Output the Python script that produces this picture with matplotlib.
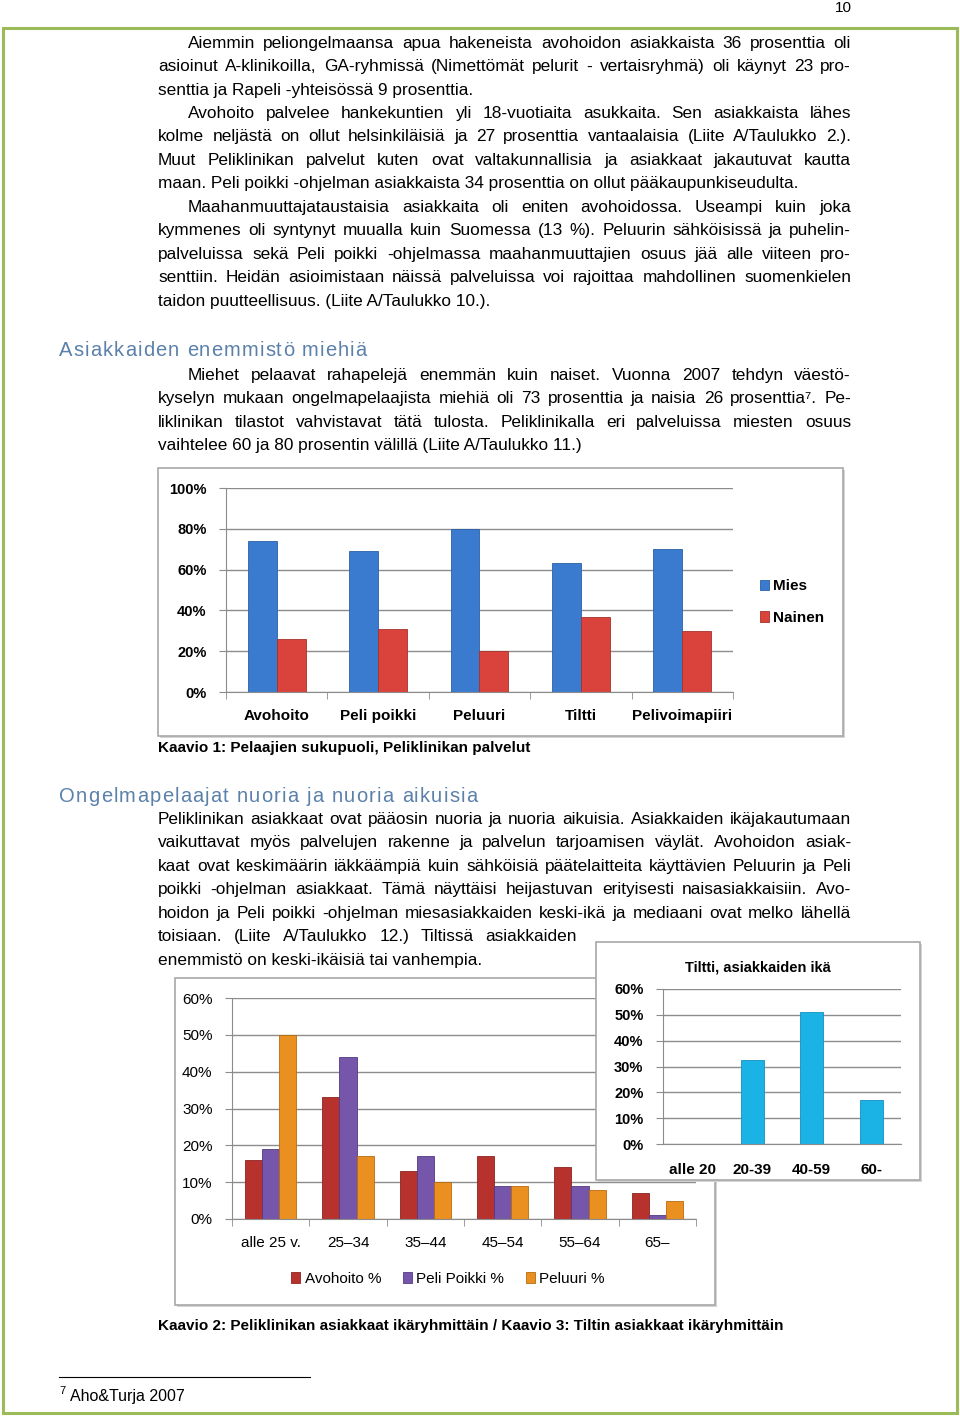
import matplotlib
matplotlib.use('Agg')
import matplotlib.pyplot as plt
from matplotlib.patches import Rectangle
from matplotlib.lines import Line2D
import numpy as np

# --- chart data ---
services = ['Avohoito', 'Peli poikki', 'Peluuri', 'Tiltti', 'Pelivoimapiiri']
mies = [74, 69, 80, 63, 70]
nainen = [26, 31, 20, 37, 30]

age_groups = ['alle 25 v.', '25\u201334', '35\u201344', '45\u201354', '55\u201364', '65\u2013']
avohoito = [16, 33, 13, 17, 14, 7]
peli_poikki = [19, 44, 17, 9, 9, 1]
peluuri = [50, 17, 10, 9, 8, 5]

tiltti_groups = ['alle 20', '20-39', '40-59', '60-']
tiltti = [0, 32.5, 51, 17]

# --- page text ---
para1 = ["Aiemmin peliongelmaansa apua hakeneista avohoidon asiakkaista 36 prosenttia oli",
         "asioinut A-klinikoilla, GA-ryhmissä (Nimettömät pelurit - vertaisryhmä) oli käynyt 23 pro-",
         "senttia ja Rapeli -yhteisössä 9 prosenttia."]
para2 = ["Avohoito palvelee hankekuntien yli 18-vuotiaita asukkaita. Sen asiakkaista lähes",
         "kolme neljästä on ollut helsinkiläisiä ja 27 prosenttia vantaalaisia (Liite A/Taulukko 2.).",
         "Muut Peliklinikan palvelut kuten ovat valtakunnallisia ja asiakkaat jakautuvat kautta",
         "maan. Peli poikki -ohjelman asiakkaista 34 prosenttia on ollut pääkaupunkiseudulta."]
para3 = ["Maahanmuuttajataustaisia asiakkaita oli eniten avohoidossa. Useampi kuin joka",
         "kymmenes oli syntynyt muualla kuin Suomessa (13 %). Peluurin sähköisissä ja puhelin-",
         "palveluissa sekä Peli poikki -ohjelmassa maahanmuuttajien osuus jää alle viiteen pro-",
         "senttiin. Heidän asioimistaan näissä palveluissa voi rajoittaa mahdollinen suomenkielen",
         "taidon puutteellisuus. (Liite A/Taulukko 10.)."]
para4 = ["Miehet pelaavat rahapelejä enemmän kuin naiset. Vuonna 2007 tehdyn väestö-",
         "kyselyn mukaan ongelmapelaajista miehiä oli 73 prosenttia ja naisia 26 prosenttia\u2077. Pe-",
         "liklinikan tilastot vahvistavat tätä tulosta. Peliklinikalla eri palveluissa miesten osuus",
         "vaihtelee 60 ja 80 prosentin välillä (Liite A/Taulukko 11.)"]
para5 = ["Peliklinikan asiakkaat ovat pääosin nuoria ja nuoria aikuisia. Asiakkaiden ikäjakautumaan",
         "vaikuttavat myös palvelujen rakenne ja palvelun tarjoamisen väylät. Avohoidon asiak-",
         "kaat ovat keskimäärin iäkkäämpiä kuin sähköisiä päätelaitteita käyttävien Peluurin ja Peli",
         "poikki -ohjelman asiakkaat. Tämä näyttäisi heijastuvan erityisesti naisasiakkaisiin. Avo-",
         "hoidon ja Peli poikki -ohjelman miesasiakkaiden keski-ikä ja mediaani ovat melko lähellä",
         "toisiaan. (Liite A/Taulukko 12.) Tiltissä asiakkaiden",
         "enemmistö on keski-ikäisiä tai vanhempia."]

W, H = 960, 1416
fig = plt.figure(figsize=(9.6, 14.16), dpi=100)
renderer = fig.canvas.get_renderer()

SANS = ['Liberation Sans', 'DejaVu Sans']
GRID = '#8c8c8c'
BODY_SIZE = 12.4


def fx(x):
    return x / W


def fy(y):
    return 1 - y / H


def txt(x, y, s, **kw):
    kw.setdefault('family', SANS)
    kw.setdefault('size', 12)
    kw.setdefault('va', 'center')
    return fig.text(fx(x), fy(y), s, **kw)


def line(x0, x1, y, s, justify=True):
    # y is the visual middle of the line; text sits on a shared baseline
    yb = y + 5
    if not justify:
        txt(x0, yb, s, size=BODY_SIZE, va='baseline')
        return
    words = s.split(' ')
    items = [txt(0, yb, w, size=BODY_SIZE, va='baseline') for w in words]
    widths = [t.get_window_extent(renderer).width for t in items]
    gap = (x1 - x0 - sum(widths)) / (len(words) - 1)
    x = x0
    for t, w in zip(items, widths):
        t.set_x(fx(x))
        x += w + gap


def spaced(x, y, s, gap, **kw):
    size = kw.get('size', 12)
    for ch in s:
        if ch == ' ':
            x += 0.28 * size * 100 / 72 + gap
            continue
        t = txt(x, y, ch, va='baseline', **kw)
        x += t.get_window_extent(renderer).width + gap


def paragraph(lines, y0, first_indent=True, right=851):
    for i, s in enumerate(lines):
        x0 = 188 if (i == 0 and first_indent) else 158
        last = i == len(lines) - 1
        line(x0, right, y0 + i * 23.45, s, justify=not last)


def box(x0, y0, x1, y1, z):
    fig.add_artist(Rectangle((fx(x0 + 2), fy(y1 + 2)), (x1 - x0) / W, (y1 - y0) / H,
                             transform=fig.transFigure, fc='#d4d4d4', ec='none', zorder=z - 0.1))
    fig.add_artist(Rectangle((fx(x0), fy(y1)), (x1 - x0) / W, (y1 - y0) / H,
                             transform=fig.transFigure, fc='white', ec='#a8a8a8', lw=1.2, zorder=z))


def axes_px(x0, x1, ybot, ytop, z):
    return fig.add_axes([fx(x0), fy(ybot), (x1 - x0) / W, (ybot - ytop) / H], zorder=z)


def style(ax, n, ymax, step, bold, tick_size, ypad, xpad):
    weight = 'bold' if bold else 'normal'
    ax.set_xlim(-0.5, n - 0.5)
    ax.set_ylim(0, ymax)
    ax.set_yticks(np.arange(0, ymax + 1, step))
    ax.set_yticklabels(['%d%%' % v for v in np.arange(0, ymax + 1, step)],
                       fontsize=tick_size, fontweight=weight, family=SANS)
    ax.set_xticks(np.arange(n))
    ax.set_xticks(np.arange(n + 1) - 0.5, minor=True)
    ax.tick_params(axis='x', which='major', length=0, pad=xpad)
    ax.tick_params(axis='x', which='minor', length=5, color=GRID)
    ax.tick_params(axis='y', length=5, color=GRID, pad=ypad)
    ax.yaxis.grid(True, color=GRID, lw=1)
    ax.set_axisbelow(True)
    for sp in ['top', 'right']:
        ax.spines[sp].set_visible(False)
    for sp in ['left', 'bottom']:
        ax.spines[sp].set_color(GRID)
    ax.set_facecolor('none')


# page frame and number
fig.add_artist(Rectangle((fx(3), fy(1413)), 954 / W, 1385 / H, transform=fig.transFigure,
                         fill=False, ec='#9bbb59', lw=2.2))
txt(843, 8, '10', size=11, ha='center')

paragraph(para1, 43)
paragraph(para2, 113)
paragraph(para3, 207)

HEAD = dict(size=14.5, color='#5b80aa')
spaced(59, 356, 'Asiakkaiden enemmistö miehiä', 1.1, **HEAD)
paragraph(para4, 375)

# Chart 1
box(158, 468, 843, 736, 1)
ax1 = axes_px(226, 733, 692, 488, 2)
x = np.arange(len(services))
w = 0.285
b1 = ax1.bar(x - w / 2, mies, w, color='#3a7bd0', edgecolor='#2a5fa8', lw=0.6)
b2 = ax1.bar(x + w / 2, nainen, w, color='#d9433b', edgecolor='#a8302a', lw=0.6)
style(ax1, 5, 100, 20, True, 10.5, 9, 12)
ax1.set_xticklabels(services, fontsize=11, fontweight='bold', family=SANS)
fig.legend([b1, b2], ['Mies', 'Nainen'], loc='center left',
           bbox_to_anchor=(fx(746), fy(602)), frameon=False, handlelength=0.6,
           handleheight=0.7, handletextpad=0.3, labelspacing=1.15,
           prop=dict(family=SANS, weight='bold', size=11))

txt(158, 748, 'Kaavio 1: Pelaajien sukupuoli, Peliklinikan palvelut', weight='bold', size=11)

spaced(59, 802, 'Ongelmapelaajat nuoria ja nuoria aikuisia', 1.2, **HEAD)
for i, s in enumerate(para5):
    y = 819 + i * 23.45
    if i < 5:
        line(158, 851, y, s)
    elif i == 5:
        line(158, 577, y, s)
    else:
        line(158, 851, y, s, justify=False)

# Chart 2
box(175, 978, 715, 1305, 1)
ax2 = axes_px(232, 696, 1219, 998, 2)
x = np.arange(len(age_groups))
w = 0.22
c1 = ax2.bar(x - w, avohoito, w, color='#b8322d', edgecolor='#8a2420', lw=0.6)
c2 = ax2.bar(x, peli_poikki, w, color='#7656aa', edgecolor='#533a80', lw=0.6)
c3 = ax2.bar(x + w, peluuri, w, color='#ea9020', edgecolor='#b86a10', lw=0.6)
style(ax2, 6, 60, 10, False, 11, 9, 12)
ax2.set_xticklabels(age_groups, fontsize=11, family=SANS)
fig.legend([c1, c2, c3], ['Avohoito %', 'Peli Poikki %', 'Peluuri %'], loc='center',
           bbox_to_anchor=(fx(448), fy(1279)), frameon=False, ncol=3,
           handlelength=0.6, handleheight=0.7, handletextpad=0.3,
           columnspacing=1.4, prop=dict(family=SANS, size=11))

# Chart 3 (Tiltti)
box(596, 942, 920, 1180, 3)
ax3 = axes_px(663, 901, 1144, 989, 4)
x = np.arange(len(tiltti_groups))
ax3.bar(x, tiltti, 0.39, color='#1bb3e6', edgecolor='#1290bd', lw=0.6)
style(ax3, 4, 60, 10, True, 10.5, 9, 14)
ax3.tick_params(axis='x', which='minor', length=0)
ax3.set_xticklabels(tiltti_groups, fontsize=11, fontweight='bold', family=SANS)
txt(758, 967, 'Tiltti, asiakkaiden ikä', weight='bold', size=10.5, ha='center', zorder=5)

txt(158, 1326, 'Kaavio 2: Peliklinikan asiakkaat ikäryhmittäin / Kaavio 3: Tiltin asiakkaat ikäryhmittäin',
    weight='bold', size=11)

# footnote
fig.add_artist(Line2D([fx(59), fx(310)], [fy(1377), fy(1377)], transform=fig.transFigure,
                      color='black', lw=0.8))
txt(59, 1391, '7', size=8)
txt(70, 1397, 'Aho&Turja 2007', size=11.5)

fig.savefig('out.png', dpi=100)
